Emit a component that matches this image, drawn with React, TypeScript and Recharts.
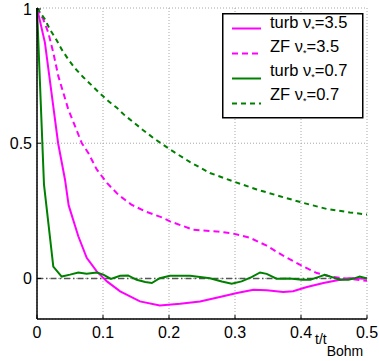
import React from "react";
import {
  CartesianGrid,
  Legend,
  Line,
  LineChart,
  ReferenceLine,
  XAxis,
  YAxis,
} from "recharts";

const FONT = '"Liberation Sans", Arial, Helvetica, sans-serif';
const MAGENTA = "#ff00ff";
const GREEN = "#008000";

// normalised correlation vs t/t_Bohm
const turb35T = [0, 0.012, 0.032, 0.0424, 0.048, 0.0626, 0.0753, 0.0905, 0.106, 0.126, 0.156, 0.186, 0.217, 0.247, 0.277, 0.303, 0.328, 0.348, 0.373, 0.388, 0.409, 0.434, 0.459, 0.474, 0.5];
const turb35V = [1, 0.872, 0.5, 0.366, 0.27, 0.156, 0.076, 0.026, -0.011, -0.048, -0.085, -0.1, -0.094, -0.085, -0.069, -0.054, -0.042, -0.044, -0.05, -0.047, -0.032, -0.017, -0.005, 0.001, 0];

const zf35T = [0, 0.0095, 0.0171, 0.0247, 0.0323, 0.0398, 0.0474, 0.0576, 0.0677, 0.0777, 0.0905, 0.106, 0.123, 0.143, 0.164, 0.191, 0.2015, 0.237, 0.272, 0.297, 0.323, 0.348, 0.373, 0.398, 0.424, 0.449, 0.474, 0.5];
const zf35V = [1, 0.958, 0.909, 0.835, 0.748, 0.687, 0.625, 0.563, 0.501, 0.464, 0.403, 0.353, 0.31, 0.273, 0.248, 0.224, 0.211, 0.18, 0.174, 0.166, 0.15, 0.121, 0.084, 0.051, 0.02, 0.005, -0.002, -0.009];

const turb07T = [0, 0.0106, 0.0247, 0.0374, 0.05, 0.0626, 0.0753, 0.0905, 0.1005, 0.112, 0.126, 0.138, 0.151, 0.164, 0.174, 0.186, 0.2015, 0.232, 0.262, 0.28, 0.295, 0.31, 0.325, 0.338, 0.348, 0.363, 0.383, 0.401, 0.414, 0.426, 0.436, 0.447, 0.459, 0.472, 0.482, 0.489, 0.5];
const turb07V = [1, 0.347, 0.044, 0.007, 0.014, 0.022, 0.017, 0.022, 0.014, -0.002, 0.01, 0.011, -0.005, -0.013, -0.017, 0.001, 0.01, 0.01, 0.001, -0.011, -0.02, -0.011, 0.005, 0.022, 0.017, -0.001, 0, -0.005, -0.005, 0.005, 0.013, 0.005, -0.005, -0.005, 0.001, 0.007, 0];

const zf07T = [0, 0.012, 0.0197, 0.0298, 0.0374, 0.0474, 0.0576, 0.0702, 0.0829, 0.0955, 0.108, 0.121, 0.133, 0.147, 0.161, 0.176, 0.2015, 0.232, 0.262, 0.297, 0.333, 0.368, 0.404, 0.439, 0.474, 0.5];
const zf07V = [1, 0.958, 0.92, 0.881, 0.847, 0.81, 0.777, 0.744, 0.714, 0.684, 0.656, 0.631, 0.603, 0.576, 0.548, 0.52, 0.477, 0.43, 0.39, 0.359, 0.329, 0.304, 0.279, 0.257, 0.244, 0.236];

const xTicks = [0, 0.1, 0.2, 0.3, 0.4, 0.5];
const yTicks = [0, 0.5, 1];

const zip = (ts: number[], vs: number[]) => ts.map((t, i) => ({ t, v: vs[i] }));

const series = [
  { key: "turb35", nu: "3.5", kind: "turb", color: MAGENTA, dash: undefined, data: zip(turb35T, turb35V) },
  { key: "zf35", nu: "3.5", kind: "ZF", color: MAGENTA, dash: "6 4", data: zip(zf35T, zf35V) },
  { key: "turb07", nu: "0.7", kind: "turb", color: GREEN, dash: undefined, data: zip(turb07T, turb07V) },
  { key: "zf07", nu: "0.7", kind: "ZF", color: GREEN, dash: "5 4", data: zip(zf07T, zf07V) },
];

function XTick(props: any) {
  const { x, y, payload } = props;
  const axisY = y - 8;
  return (
    <g>
      <line x1={x} x2={x} y1={axisY} y2={axisY - 4} stroke="#000" />
      <text x={x} y={y} dy="0.71em" textAnchor="middle" fontSize={16} fontFamily={FONT} fill="#000">
        {String(payload.value)}
      </text>
    </g>
  );
}

function YTick(props: any) {
  const { x, y, payload } = props;
  const axisX = x + 5;
  return (
    <g>
      <line x1={axisX} x2={axisX + 4} y1={y} y2={y} stroke="#000" />
      <text x={x} y={y} dy="0.355em" textAnchor="end" fontSize={16} fontFamily={FONT} fill="#000">
        {String(payload.value)}
      </text>
    </g>
  );
}

function XLabel(props: any) {
  const { viewBox } = props;
  const x = viewBox.x + viewBox.width - 52;
  const y = viewBox.y + 25;
  return (
    <text x={x} y={y} fontSize={14} fontFamily={FONT} fill="#000">
      t/t
      <tspan dy={12}>Bohm</tspan>
    </text>
  );
}

function LegendBox() {
  return (
    <svg width={142} height={106} style={{ display: "block" }}>
      <rect x={0.75} y={0.75} width={140} height={104} fill="#fff" stroke="#000" strokeWidth={1.5} />
      {series.map((s, i) => {
        const lineY = 15.5 + i * 25;
        const textY = 14.5 + i * 24.2;
        return (
          <g key={s.key}>
            <line x1={10} x2={39} y1={lineY} y2={lineY} stroke={s.color} strokeWidth={2} strokeDasharray={s.dash} />
            <text x={48} y={textY} fontSize={16.5} fontFamily={FONT} fill="#000">
              {s.kind} ν
              <tspan dy={4} fontSize={9}>*</tspan>
              <tspan dy={-4}>={s.nu}</tspan>
            </text>
          </g>
        );
      })}
    </svg>
  );
}

export default function App() {
  return (
    <div style={{ position: "absolute", left: 0, top: 0, width: 379, height: 361, background: "#fff" }}>
      <LineChart
        width={379}
        height={361}
        margin={{ top: 8, right: 12, bottom: 12, left: 0 }}
        style={{ overflow: "visible" }}
      >
        <CartesianGrid stroke="#a8a8a8" strokeDasharray="1 2" />
        <XAxis
          dataKey="t"
          type="number"
          domain={[0, 0.5]}
          ticks={xTicks}
          height={30}
          tickLine={false}
          axisLine={{ stroke: "#000", strokeWidth: 1.5 }}
          tick={<XTick />}
          label={<XLabel />}
        />
        <YAxis
          type="number"
          domain={[-0.15, 1]}
          ticks={yTicks}
          width={37}
          tickSize={3}
          tickMargin={2}
          tickLine={false}
          axisLine={{ stroke: "#000", strokeWidth: 1.5 }}
          tick={<YTick />}
        />
        <ReferenceLine y={0} stroke="#555" strokeWidth={1.5} strokeDasharray="6 3 1.5 3" />
        {series.map((s) => (
          <Line
            key={s.key}
            data={s.data}
            dataKey="v"
            type="linear"
            stroke={s.color}
            strokeWidth={2}
            strokeDasharray={s.dash}
            dot={false}
            activeDot={false}
            isAnimationActive={false}
          />
        ))}
        <Legend
          layout="vertical"
          align="center"
          verticalAlign="middle"
          content={() => <LegendBox />}
          wrapperStyle={{ left: 222, top: 13, width: 142, height: 106 }}
        />
      </LineChart>
    </div>
  );
}
